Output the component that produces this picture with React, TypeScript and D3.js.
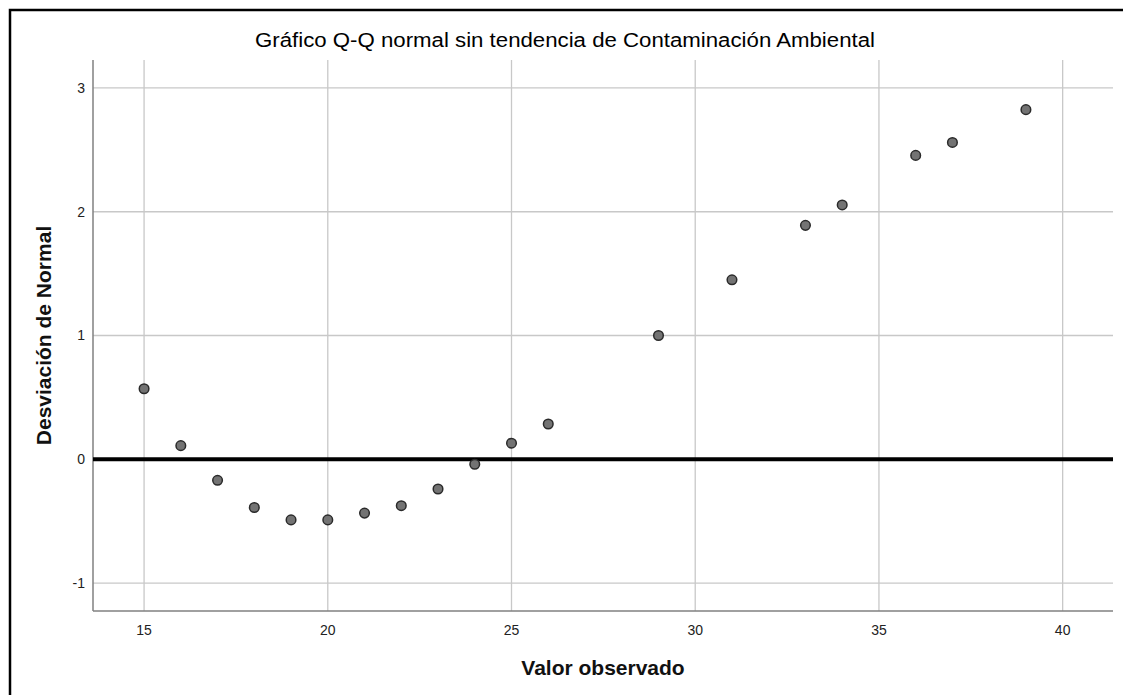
import React from "react";
import * as d3 from "d3";

const observed = [15, 16, 17, 18, 19, 20, 21, 22, 23, 24, 25, 26, 29, 31, 33, 34, 36, 37, 39];
const deviation = [0.57, 0.11, -0.17, -0.39, -0.49, -0.49, -0.435, -0.375, -0.24, -0.04, 0.13, 0.285, 1.0, 1.45, 1.89, 2.055, 2.455, 2.56, 2.825];
const xTicks = [15, 20, 25, 30, 35, 40];
const yTicks = [-1, 0, 1, 2, 3];

const W = 1123;
const H = 695;
const left = 93, right = 1113, top = 60, bottom = 611;

export default function App() {
  const x = d3.scaleLinear().domain([13.61, 41.37]).range([left, right]);
  const y = d3.scaleLinear().domain([-1.226, 3.226]).range([bottom, top]);
  const font = "'Liberation Sans', Arial, sans-serif";
  return (
    <div style={{ position: "absolute", left: 0, top: 0 }}>
      <svg width={W} height={H} style={{ display: "block", background: "#fff" }}>
        <rect x={10} y={10} width={W + 20} height={H + 20} fill="#fff" stroke="#000" strokeWidth={2.5} />
        <text x={565} y={47} textAnchor="middle" fontFamily={font} fontSize={20} fill="#000"
          textLength={620} lengthAdjust="spacingAndGlyphs">
          Gráfico Q-Q normal sin tendencia de Contaminación Ambiental
        </text>
        {xTicks.map((t) => (
          <line key={"gx" + t} x1={x(t)} x2={x(t)} y1={top} y2={bottom} stroke="#c8c8c8" strokeWidth={1.3} />
        ))}
        {yTicks.map((t) => (
          <line key={"gy" + t} x1={left} x2={right} y1={y(t)} y2={y(t)} stroke="#c8c8c8" strokeWidth={1.3} />
        ))}
        <line x1={left} x2={left} y1={top} y2={bottom} stroke="#808080" strokeWidth={1.5} />
        <line x1={left} x2={right} y1={bottom} y2={bottom} stroke="#808080" strokeWidth={1.5} />
        <line x1={left} x2={right} y1={y(0)} y2={y(0)} stroke="#000" strokeWidth={4} />
        {yTicks.map((t) => (
          <text key={"ly" + t} x={left - 8} y={y(t)} dy="0.35em" textAnchor="end" fontFamily={font} fontSize={14} fill="#222">
            {t}
          </text>
        ))}
        {xTicks.map((t) => (
          <text key={"lx" + t} x={x(t)} y={bottom + 24} textAnchor="middle" fontFamily={font} fontSize={14} fill="#222">
            {t}
          </text>
        ))}
        {observed.map((v, i) => (
          <circle key={"p" + i} cx={x(v)} cy={y(deviation[i])} r={4.8} fill="#737373" stroke="#2a2a2a" strokeWidth={1.5} />
        ))}
        <text x={603} y={675} textAnchor="middle" fontFamily={font} fontSize={21} fontWeight="bold" fill="#111">
          Valor observado
        </text>
        <text transform={`translate(51,${(top + bottom) / 2}) rotate(-90)`} textAnchor="middle" fontFamily={font} fontSize={21} fontWeight="bold" fill="#111">
          Desviación de Normal
        </text>
      </svg>
    </div>
  );
}
